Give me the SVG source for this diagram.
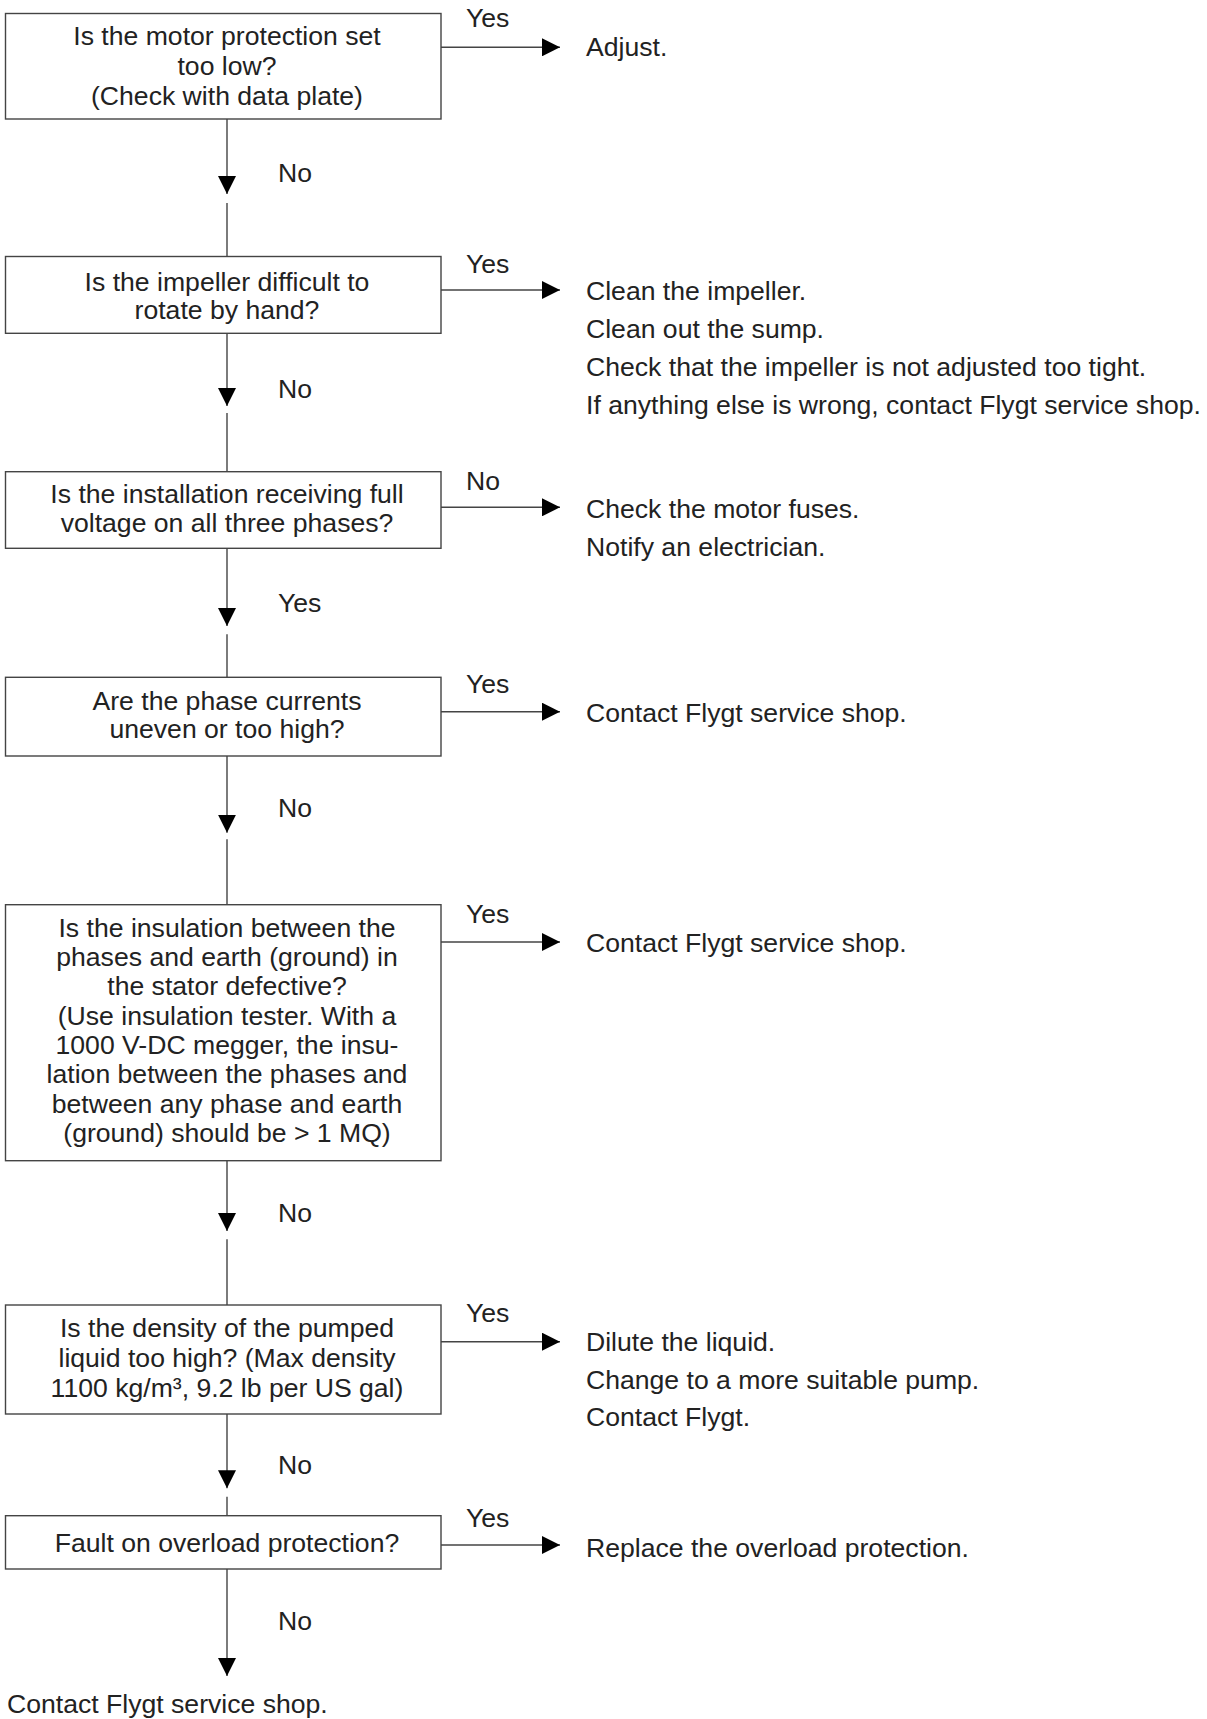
<svg xmlns="http://www.w3.org/2000/svg" width="1207" height="1719" viewBox="0 0 1207 1719">
<style>
  text { font-family: "Liberation Sans", Arial, sans-serif; font-size: 26.6px; fill: #222; }
  .c { text-anchor: middle; }
  .box { fill: #fff; stroke: #444; stroke-width: 1.4; }
  .ln { fill: none; stroke: #444; stroke-width: 1.4; }
</style>
<defs>
  <marker id="ah" viewBox="0 0 18 18" refX="18" refY="9" markerWidth="18" markerHeight="18" markerUnits="userSpaceOnUse" orient="auto">
    <path d="M0,0 L18,9 L0,18 z" fill="#000"/>
  </marker>
</defs>
<rect width="1207" height="1719" fill="#fff"/>

<g id="connectors">
  <line class="ln" x1="227" y1="119" x2="227" y2="194" marker-end="url(#ah)"/>
  <line class="ln" x1="227" y1="203" x2="227" y2="256.5"/>
  <line class="ln" x1="227" y1="333.3" x2="227" y2="406" marker-end="url(#ah)"/>
  <line class="ln" x1="227" y1="413" x2="227" y2="471.7"/>
  <line class="ln" x1="227" y1="548.3" x2="227" y2="626" marker-end="url(#ah)"/>
  <line class="ln" x1="227" y1="634.3" x2="227" y2="677.3"/>
  <line class="ln" x1="227" y1="756" x2="227" y2="832.7" marker-end="url(#ah)"/>
  <line class="ln" x1="227" y1="839.3" x2="227" y2="904.7"/>
  <line class="ln" x1="227" y1="1160.7" x2="227" y2="1231" marker-end="url(#ah)"/>
  <line class="ln" x1="227" y1="1239.3" x2="227" y2="1305"/>
  <line class="ln" x1="227" y1="1414" x2="227" y2="1488.3" marker-end="url(#ah)"/>
  <line class="ln" x1="227" y1="1496.7" x2="227" y2="1515.7"/>
  <line class="ln" x1="227" y1="1569" x2="227" y2="1676" marker-end="url(#ah)"/>
  <line class="ln" x1="441" y1="47.3" x2="560" y2="47.3" marker-end="url(#ah)"/>
  <line class="ln" x1="441" y1="290" x2="560" y2="290" marker-end="url(#ah)"/>
  <line class="ln" x1="441" y1="507.3" x2="560" y2="507.3" marker-end="url(#ah)"/>
  <line class="ln" x1="441" y1="711.7" x2="560" y2="711.7" marker-end="url(#ah)"/>
  <line class="ln" x1="441" y1="942" x2="560" y2="942" marker-end="url(#ah)"/>
  <line class="ln" x1="441" y1="1341.7" x2="560" y2="1341.7" marker-end="url(#ah)"/>
  <line class="ln" x1="441" y1="1545" x2="560" y2="1545" marker-end="url(#ah)"/>
  <text x="466" y="27">Yes</text>
  <text x="278" y="182">No</text>
  <text x="466" y="272.7">Yes</text>
  <text x="278" y="398">No</text>
  <text x="466" y="490">No</text>
  <text x="278" y="611.7">Yes</text>
  <text x="466" y="693.3">Yes</text>
  <text x="278" y="816.7">No</text>
  <text x="466" y="922.7">Yes</text>
  <text x="278" y="1221.7">No</text>
  <text x="466" y="1322">Yes</text>
  <text x="278" y="1474">No</text>
  <text x="466" y="1527">Yes</text>
  <text x="278" y="1630">No</text>
</g>

<g id="q1">
  <rect class="box" x="5.5" y="13.5" width="435.5" height="105.5"/>
  <text class="c" x="227" y="45">Is the motor protection set</text>
  <text class="c" x="227" y="75">too low?</text>
  <text class="c" x="227" y="105">(Check with data plate)</text>
</g>
<g id="a1">
  <text x="586" y="56">Adjust.</text>
</g>

<g id="q2">
  <rect class="box" x="5.5" y="256.5" width="435.5" height="76.8"/>
  <text class="c" x="227" y="290.7">Is the impeller difficult to</text>
  <text class="c" x="227" y="319">rotate by hand?</text>
</g>
<g id="a2">
  <text x="586" y="300">Clean the impeller.</text>
  <text x="586" y="338">Clean out the sump.</text>
  <text x="586" y="376">Check that the impeller is not adjusted too tight.</text>
  <text x="586" y="413.5">If anything else is wrong, contact Flygt service shop.</text>
</g>

<g id="q3">
  <rect class="box" x="5.5" y="471.7" width="435.5" height="76.6"/>
  <text class="c" x="227" y="503.3">Is the installation receiving full</text>
  <text class="c" x="227" y="531.7">voltage on all three phases?</text>
</g>
<g id="a3">
  <text x="586" y="518">Check the motor fuses.</text>
  <text x="586" y="556">Notify an electrician.</text>
</g>

<g id="q4">
  <rect class="box" x="5.5" y="677.3" width="435.5" height="78.7"/>
  <text class="c" x="227" y="710">Are the phase currents</text>
  <text class="c" x="227" y="738.3">uneven or too high?</text>
</g>
<g id="a4">
  <text x="586" y="721.7">Contact Flygt service shop.</text>
</g>

<g id="q5">
  <rect class="box" x="5.5" y="904.7" width="435.5" height="256"/>
  <text class="c" x="227" y="936.7">Is the insulation between the</text>
  <text class="c" x="227" y="966">phases and earth (ground) in</text>
  <text class="c" x="227" y="995">the stator defective?</text>
  <text class="c" x="227" y="1025">(Use insulation tester. With a</text>
  <text class="c" x="227" y="1054">1000 V-DC megger, the insu-</text>
  <text class="c" x="227" y="1083.3">lation between the phases and</text>
  <text class="c" x="227" y="1112.7">between any phase and earth</text>
  <text class="c" x="227" y="1142.3">(ground) should be &gt; 1 MQ)</text>
</g>
<g id="a5">
  <text x="586" y="951.7">Contact Flygt service shop.</text>
</g>

<g id="q6">
  <rect class="box" x="5.5" y="1305" width="435.5" height="109"/>
  <text class="c" x="227" y="1337.3">Is the density of the pumped</text>
  <text class="c" x="227" y="1366.7">liquid too high? (Max density</text>
  <text class="c" x="227" y="1396.7">1100 kg/m³, 9.2 lb per US gal)</text>
</g>
<g id="a6">
  <text x="586" y="1351">Dilute the liquid.</text>
  <text x="586" y="1389">Change to a more suitable pump.</text>
  <text x="586" y="1425.5">Contact Flygt.</text>
</g>

<g id="q7">
  <rect class="box" x="5.5" y="1515.7" width="435.5" height="53.3"/>
  <text class="c" x="227" y="1551.7">Fault on overload protection?</text>
</g>
<g id="a7">
  <text x="586" y="1556.7">Replace the overload protection.</text>
</g>

<g id="end">
  <text x="7" y="1713">Contact Flygt service shop.</text>
</g>
</svg>
